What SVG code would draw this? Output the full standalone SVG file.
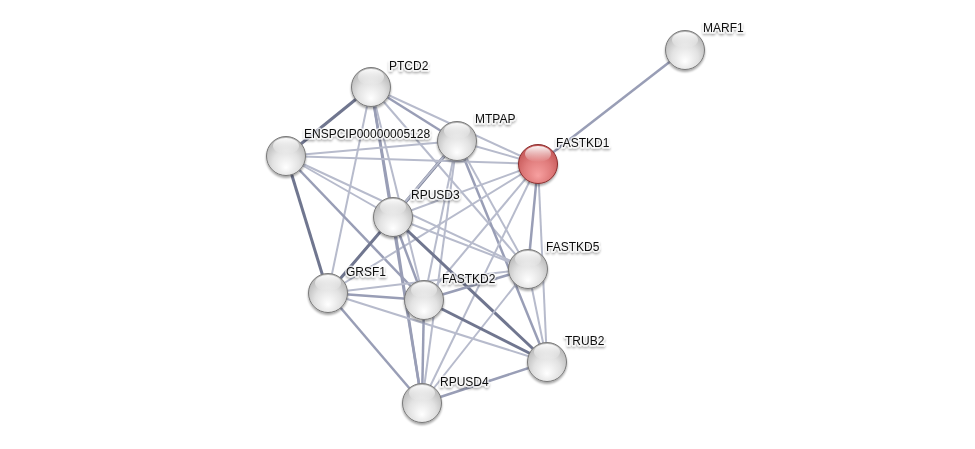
<svg xmlns="http://www.w3.org/2000/svg" width="975" height="449" viewBox="0 0 975 449">
<defs>
<radialGradient id="gGray" cx="0.5" cy="0.62" r="0.62" fx="0.5" fy="0.8">
<stop offset="0" stop-color="#ffffff"/>
<stop offset="0.55" stop-color="#e2e2e2"/>
<stop offset="1" stop-color="#b4b4b4"/>
</radialGradient>
<radialGradient id="gRed" cx="0.5" cy="0.62" r="0.62" fx="0.5" fy="0.8">
<stop offset="0" stop-color="#f7a0a0"/>
<stop offset="0.55" stop-color="#e07c7c"/>
<stop offset="1" stop-color="#c25454"/>
</radialGradient>
<linearGradient id="gHi" x1="0" y1="0" x2="0" y2="1">
<stop offset="0" stop-color="#ffffff" stop-opacity="0.95"/>
<stop offset="1" stop-color="#ffffff" stop-opacity="0"/>
</linearGradient>
<filter id="sh" x="-30%" y="-30%" width="160%" height="160%">
<feGaussianBlur in="SourceAlpha" stdDeviation="1.2"/>
<feOffset dx="0" dy="1.5" result="b"/>
<feComponentTransfer><feFuncA type="linear" slope="0.35"/></feComponentTransfer>
<feMerge><feMergeNode/><feMergeNode in="SourceGraphic"/></feMerge>
</filter>
</defs>
<style>
.e1{stroke:#b7bbcc;stroke-width:2;fill:none}
.e2{stroke:#999eb6;stroke-width:2.5;fill:none}
.e3{stroke:#70768f;stroke-width:3;fill:none}
.n{stroke:#7a7a7a;stroke-width:1}
.nr{stroke:#8a3030;stroke-width:1}
.hi{fill:url(#gHi)}
text{font-family:"Liberation Sans",Arial,sans-serif;font-size:12px;fill:#111;stroke:#fff;stroke-width:3;stroke-opacity:0.7;paint-order:stroke;stroke-linejoin:round}
</style>
<rect width="975" height="449" fill="#ffffff"/>
<g id="edges">
<line class="e2" x1="538" y1="164" x2="685" y2="50"/>
<line class="e2" x1="371" y1="87" x2="457" y2="141"/>
<line class="e3" x1="371" y1="87" x2="286" y2="156"/>
<line class="e1" x1="371" y1="87" x2="538" y2="164"/>
<line class="e2" x1="371" y1="87" x2="393" y2="217"/>
<line class="e1" x1="371" y1="87" x2="528" y2="269"/>
<line class="e1" x1="371" y1="87" x2="328" y2="293"/>
<line class="e1" x1="371" y1="87" x2="424" y2="300"/>
<line class="e2" x1="371" y1="87" x2="422" y2="403"/>
<line class="e1" x1="457" y1="141" x2="286" y2="156"/>
<line class="e1" x1="457" y1="141" x2="538" y2="164"/>
<line class="e3" x1="457" y1="141" x2="393" y2="217"/>
<line class="e1" x1="457" y1="141" x2="528" y2="269"/>
<line class="e1" x1="457" y1="141" x2="328" y2="293"/>
<line class="e1" x1="457" y1="141" x2="424" y2="300"/>
<line class="e2" x1="457" y1="141" x2="547" y2="362"/>
<line class="e1" x1="457" y1="141" x2="422" y2="403"/>
<line class="e1" x1="286" y1="156" x2="538" y2="164"/>
<line class="e1" x1="286" y1="156" x2="393" y2="217"/>
<line class="e3" x1="286" y1="156" x2="328" y2="293"/>
<line class="e2" x1="286" y1="156" x2="424" y2="300"/>
<line class="e1" x1="286" y1="156" x2="528" y2="269"/>
<line class="e1" x1="538" y1="164" x2="393" y2="217"/>
<line class="e2" x1="538" y1="164" x2="528" y2="269"/>
<line class="e1" x1="538" y1="164" x2="328" y2="293"/>
<line class="e1" x1="538" y1="164" x2="424" y2="300"/>
<line class="e1" x1="538" y1="164" x2="547" y2="362"/>
<line class="e1" x1="538" y1="164" x2="422" y2="403"/>
<line class="e1" x1="393" y1="217" x2="528" y2="269"/>
<line class="e3" x1="393" y1="217" x2="328" y2="293"/>
<line class="e2" x1="393" y1="217" x2="424" y2="300"/>
<line class="e3" x1="393" y1="217" x2="547" y2="362"/>
<line class="e2" x1="393" y1="217" x2="422" y2="403"/>
<line class="e1" x1="528" y1="269" x2="328" y2="293"/>
<line class="e2" x1="528" y1="269" x2="424" y2="300"/>
<line class="e1" x1="528" y1="269" x2="547" y2="362"/>
<line class="e1" x1="528" y1="269" x2="422" y2="403"/>
<line class="e2" x1="328" y1="293" x2="424" y2="300"/>
<line class="e1" x1="328" y1="293" x2="547" y2="362"/>
<line class="e2" x1="328" y1="293" x2="422" y2="403"/>
<line class="e3" x1="424" y1="300" x2="547" y2="362"/>
<line class="e2" x1="424" y1="300" x2="422" y2="403"/>
<line class="e2" x1="547" y1="362" x2="422" y2="403"/>
</g>
<g id="node-MARF1" filter="url(#sh)"><circle class="n" cx="685" cy="50" r="19.5" fill="url(#gGray)"/><ellipse class="hi" cx="685" cy="40" rx="13" ry="8"/><text x="703" y="32">MARF1</text></g>
<g id="node-PTCD2" filter="url(#sh)"><circle class="n" cx="371" cy="87" r="19.5" fill="url(#gGray)"/><ellipse class="hi" cx="371" cy="77" rx="13" ry="8"/><text x="389" y="70">PTCD2</text></g>
<g id="node-MTPAP" filter="url(#sh)"><circle class="n" cx="457" cy="141" r="19.5" fill="url(#gGray)"/><ellipse class="hi" cx="457" cy="131" rx="13" ry="8"/><text x="475" y="123">MTPAP</text></g>
<g id="node-ENSPCIP00000005128" filter="url(#sh)"><circle class="n" cx="286" cy="156" r="19.5" fill="url(#gGray)"/><ellipse class="hi" cx="286" cy="146" rx="13" ry="8"/><text x="304" y="138">ENSPCIP00000005128</text></g>
<g id="node-FASTKD1" filter="url(#sh)"><circle class="nr" cx="538" cy="164" r="19.5" fill="url(#gRed)"/><ellipse class="hi" cx="538" cy="154" rx="13" ry="8"/><text x="556" y="147">FASTKD1</text></g>
<g id="node-RPUSD3" filter="url(#sh)"><circle class="n" cx="393" cy="217" r="19.5" fill="url(#gGray)"/><ellipse class="hi" cx="393" cy="207" rx="13" ry="8"/><text x="411" y="199">RPUSD3</text></g>
<g id="node-FASTKD5" filter="url(#sh)"><circle class="n" cx="528" cy="269" r="19.5" fill="url(#gGray)"/><ellipse class="hi" cx="528" cy="259" rx="13" ry="8"/><text x="546" y="251">FASTKD5</text></g>
<g id="node-GRSF1" filter="url(#sh)"><circle class="n" cx="328" cy="293" r="19.5" fill="url(#gGray)"/><ellipse class="hi" cx="328" cy="283" rx="13" ry="8"/><text x="346" y="276">GRSF1</text></g>
<g id="node-FASTKD2" filter="url(#sh)"><circle class="n" cx="424" cy="300" r="19.5" fill="url(#gGray)"/><ellipse class="hi" cx="424" cy="290" rx="13" ry="8"/><text x="442" y="283">FASTKD2</text></g>
<g id="node-TRUB2" filter="url(#sh)"><circle class="n" cx="547" cy="362" r="19.5" fill="url(#gGray)"/><ellipse class="hi" cx="547" cy="352" rx="13" ry="8"/><text x="565" y="345">TRUB2</text></g>
<g id="node-RPUSD4" filter="url(#sh)"><circle class="n" cx="422" cy="403" r="19.5" fill="url(#gGray)"/><ellipse class="hi" cx="422" cy="393" rx="13" ry="8"/><text x="440" y="386">RPUSD4</text></g>
</svg>
